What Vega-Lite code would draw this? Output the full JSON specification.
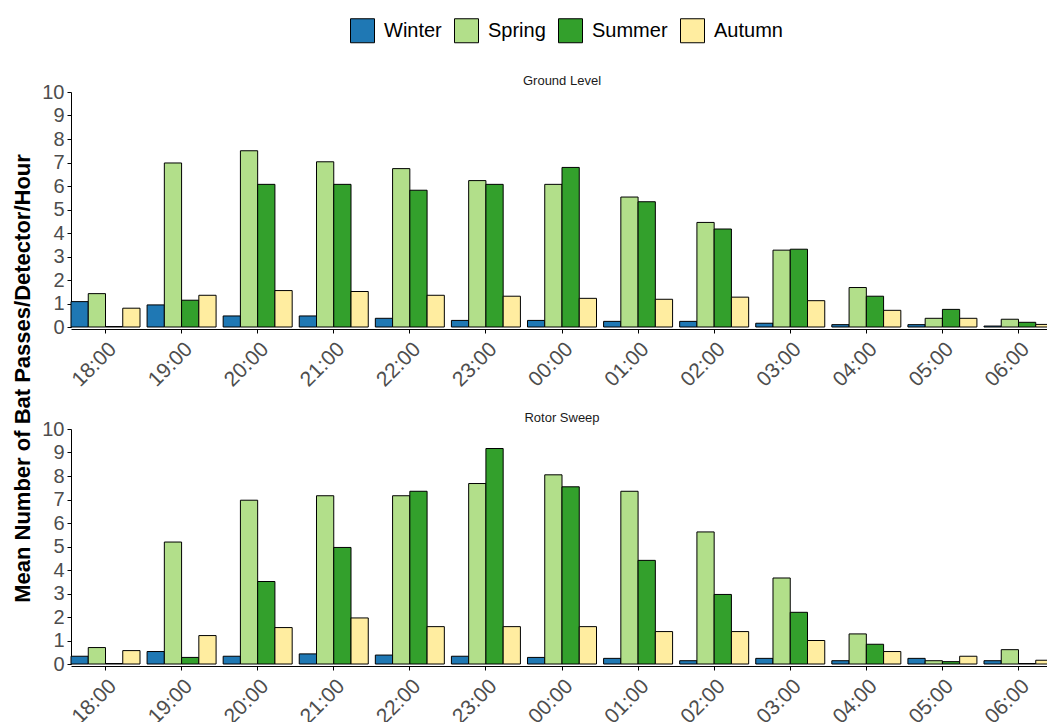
{
  "$schema": "https://vega.github.io/schema/vega-lite/v6.json",
  "padding": {"left": 11, "top": 18, "right": 0, "bottom": 0},
  "bounds": "flush",
  "spacing": 102,
  "config": {
    "view": {"stroke": null},
    "font": "Liberation Sans",
    "axis": {"grid": false, "domainColor": "black", "tickColor": "black", "labelColor": "#4d4d4d", "labelFontSize": 20, "tickSize": 4, "labelPadding": 3, "domainWidth": 1, "tickWidth": 1},
    "title": {"fontSize": 13, "fontWeight": "normal", "color": "#1a1a1a", "offset": -6, "anchor": "middle"}
  },
  "data": {"values": [
    {"panel":"Ground Level","hour":"18:00","season":"Winter","value":1.08},
    {"panel":"Ground Level","hour":"18:00","season":"Spring","value":1.42},
    {"panel":"Ground Level","hour":"18:00","season":"Summer","value":0.02},
    {"panel":"Ground Level","hour":"18:00","season":"Autumn","value":0.80},
    {"panel":"Ground Level","hour":"19:00","season":"Winter","value":0.94},
    {"panel":"Ground Level","hour":"19:00","season":"Spring","value":6.98},
    {"panel":"Ground Level","hour":"19:00","season":"Summer","value":1.14},
    {"panel":"Ground Level","hour":"19:00","season":"Autumn","value":1.35},
    {"panel":"Ground Level","hour":"20:00","season":"Winter","value":0.47},
    {"panel":"Ground Level","hour":"20:00","season":"Spring","value":7.50},
    {"panel":"Ground Level","hour":"20:00","season":"Summer","value":6.07},
    {"panel":"Ground Level","hour":"20:00","season":"Autumn","value":1.55},
    {"panel":"Ground Level","hour":"21:00","season":"Winter","value":0.47},
    {"panel":"Ground Level","hour":"21:00","season":"Spring","value":7.03},
    {"panel":"Ground Level","hour":"21:00","season":"Summer","value":6.07},
    {"panel":"Ground Level","hour":"21:00","season":"Autumn","value":1.51},
    {"panel":"Ground Level","hour":"22:00","season":"Winter","value":0.37},
    {"panel":"Ground Level","hour":"22:00","season":"Spring","value":6.74},
    {"panel":"Ground Level","hour":"22:00","season":"Summer","value":5.82},
    {"panel":"Ground Level","hour":"22:00","season":"Autumn","value":1.35},
    {"panel":"Ground Level","hour":"23:00","season":"Winter","value":0.28},
    {"panel":"Ground Level","hour":"23:00","season":"Spring","value":6.23},
    {"panel":"Ground Level","hour":"23:00","season":"Summer","value":6.07},
    {"panel":"Ground Level","hour":"23:00","season":"Autumn","value":1.31},
    {"panel":"Ground Level","hour":"00:00","season":"Winter","value":0.28},
    {"panel":"Ground Level","hour":"00:00","season":"Spring","value":6.07},
    {"panel":"Ground Level","hour":"00:00","season":"Summer","value":6.79},
    {"panel":"Ground Level","hour":"00:00","season":"Autumn","value":1.22},
    {"panel":"Ground Level","hour":"01:00","season":"Winter","value":0.24},
    {"panel":"Ground Level","hour":"01:00","season":"Spring","value":5.53},
    {"panel":"Ground Level","hour":"01:00","season":"Summer","value":5.33},
    {"panel":"Ground Level","hour":"01:00","season":"Autumn","value":1.18},
    {"panel":"Ground Level","hour":"02:00","season":"Winter","value":0.24},
    {"panel":"Ground Level","hour":"02:00","season":"Spring","value":4.45},
    {"panel":"Ground Level","hour":"02:00","season":"Summer","value":4.17},
    {"panel":"Ground Level","hour":"02:00","season":"Autumn","value":1.27},
    {"panel":"Ground Level","hour":"03:00","season":"Winter","value":0.16},
    {"panel":"Ground Level","hour":"03:00","season":"Spring","value":3.27},
    {"panel":"Ground Level","hour":"03:00","season":"Summer","value":3.31},
    {"panel":"Ground Level","hour":"03:00","season":"Autumn","value":1.12},
    {"panel":"Ground Level","hour":"04:00","season":"Winter","value":0.10},
    {"panel":"Ground Level","hour":"04:00","season":"Spring","value":1.68},
    {"panel":"Ground Level","hour":"04:00","season":"Summer","value":1.31},
    {"panel":"Ground Level","hour":"04:00","season":"Autumn","value":0.71},
    {"panel":"Ground Level","hour":"05:00","season":"Winter","value":0.10},
    {"panel":"Ground Level","hour":"05:00","season":"Spring","value":0.37},
    {"panel":"Ground Level","hour":"05:00","season":"Summer","value":0.75},
    {"panel":"Ground Level","hour":"05:00","season":"Autumn","value":0.37},
    {"panel":"Ground Level","hour":"06:00","season":"Winter","value":0.04},
    {"panel":"Ground Level","hour":"06:00","season":"Spring","value":0.33},
    {"panel":"Ground Level","hour":"06:00","season":"Summer","value":0.20},
    {"panel":"Ground Level","hour":"06:00","season":"Autumn","value":0.11},
    {"panel":"Rotor Sweep","hour":"18:00","season":"Winter","value":0.33},
    {"panel":"Rotor Sweep","hour":"18:00","season":"Spring","value":0.70},
    {"panel":"Rotor Sweep","hour":"18:00","season":"Summer","value":0.02},
    {"panel":"Rotor Sweep","hour":"18:00","season":"Autumn","value":0.57},
    {"panel":"Rotor Sweep","hour":"19:00","season":"Winter","value":0.53},
    {"panel":"Rotor Sweep","hour":"19:00","season":"Spring","value":5.19},
    {"panel":"Rotor Sweep","hour":"19:00","season":"Summer","value":0.28},
    {"panel":"Rotor Sweep","hour":"19:00","season":"Autumn","value":1.21},
    {"panel":"Rotor Sweep","hour":"20:00","season":"Winter","value":0.33},
    {"panel":"Rotor Sweep","hour":"20:00","season":"Spring","value":6.97},
    {"panel":"Rotor Sweep","hour":"20:00","season":"Summer","value":3.51},
    {"panel":"Rotor Sweep","hour":"20:00","season":"Autumn","value":1.55},
    {"panel":"Rotor Sweep","hour":"21:00","season":"Winter","value":0.43},
    {"panel":"Rotor Sweep","hour":"21:00","season":"Spring","value":7.16},
    {"panel":"Rotor Sweep","hour":"21:00","season":"Summer","value":4.96},
    {"panel":"Rotor Sweep","hour":"21:00","season":"Autumn","value":1.96},
    {"panel":"Rotor Sweep","hour":"22:00","season":"Winter","value":0.38},
    {"panel":"Rotor Sweep","hour":"22:00","season":"Spring","value":7.16},
    {"panel":"Rotor Sweep","hour":"22:00","season":"Summer","value":7.35},
    {"panel":"Rotor Sweep","hour":"22:00","season":"Autumn","value":1.59},
    {"panel":"Rotor Sweep","hour":"23:00","season":"Winter","value":0.33},
    {"panel":"Rotor Sweep","hour":"23:00","season":"Spring","value":7.68},
    {"panel":"Rotor Sweep","hour":"23:00","season":"Summer","value":9.17},
    {"panel":"Rotor Sweep","hour":"23:00","season":"Autumn","value":1.59},
    {"panel":"Rotor Sweep","hour":"00:00","season":"Winter","value":0.28},
    {"panel":"Rotor Sweep","hour":"00:00","season":"Spring","value":8.05},
    {"panel":"Rotor Sweep","hour":"00:00","season":"Summer","value":7.54},
    {"panel":"Rotor Sweep","hour":"00:00","season":"Autumn","value":1.59},
    {"panel":"Rotor Sweep","hour":"01:00","season":"Winter","value":0.24},
    {"panel":"Rotor Sweep","hour":"01:00","season":"Spring","value":7.35},
    {"panel":"Rotor Sweep","hour":"01:00","season":"Summer","value":4.41},
    {"panel":"Rotor Sweep","hour":"01:00","season":"Autumn","value":1.38},
    {"panel":"Rotor Sweep","hour":"02:00","season":"Winter","value":0.14},
    {"panel":"Rotor Sweep","hour":"02:00","season":"Spring","value":5.62},
    {"panel":"Rotor Sweep","hour":"02:00","season":"Summer","value":2.96},
    {"panel":"Rotor Sweep","hour":"02:00","season":"Autumn","value":1.38},
    {"panel":"Rotor Sweep","hour":"03:00","season":"Winter","value":0.24},
    {"panel":"Rotor Sweep","hour":"03:00","season":"Spring","value":3.66},
    {"panel":"Rotor Sweep","hour":"03:00","season":"Summer","value":2.20},
    {"panel":"Rotor Sweep","hour":"03:00","season":"Autumn","value":1.00},
    {"panel":"Rotor Sweep","hour":"04:00","season":"Winter","value":0.14},
    {"panel":"Rotor Sweep","hour":"04:00","season":"Spring","value":1.28},
    {"panel":"Rotor Sweep","hour":"04:00","season":"Summer","value":0.84},
    {"panel":"Rotor Sweep","hour":"04:00","season":"Autumn","value":0.53},
    {"panel":"Rotor Sweep","hour":"05:00","season":"Winter","value":0.24},
    {"panel":"Rotor Sweep","hour":"05:00","season":"Spring","value":0.14},
    {"panel":"Rotor Sweep","hour":"05:00","season":"Summer","value":0.10},
    {"panel":"Rotor Sweep","hour":"05:00","season":"Autumn","value":0.33},
    {"panel":"Rotor Sweep","hour":"06:00","season":"Winter","value":0.14},
    {"panel":"Rotor Sweep","hour":"06:00","season":"Spring","value":0.61},
    {"panel":"Rotor Sweep","hour":"06:00","season":"Summer","value":0.02},
    {"panel":"Rotor Sweep","hour":"06:00","season":"Autumn","value":0.16}
  ]},
  "vconcat": [
    {
      "title": "Ground Level",
      "transform": [{"filter": "datum.panel == 'Ground Level'"}],
      "width": 982,
      "height": 235,
      "mark": {"type": "bar", "stroke": "black", "strokeWidth": 1},
      "encoding": {
        "x": {"field": "hour", "type": "ordinal", "sort": ["18:00","19:00","20:00","21:00","22:00","23:00","00:00","01:00","02:00","03:00","04:00","05:00","06:00"], "scale": {"paddingInner": 0.093, "paddingOuter": 0}, "axis": {"title": null, "labelAngle": -45, "offset": 2, "labelBaseline": "top", "labelPadding": 5, "labelFontSize": 21}},
        "xOffset": {"field": "season", "sort": ["Winter","Spring","Summer","Autumn"], "scale": {"paddingInner": 0, "paddingOuter": 0}},
        "y": {"field": "value", "type": "quantitative", "scale": {"domain": [0, 10], "nice": false}, "axis": {"values": [0,1,2,3,4,5,6,7,8,9,10], "title": "Mean Number of Bat Passes/Detector/Hour", "titleFontSize": 22, "titleFontWeight": "bold", "titleColor": "black", "titleY": 286, "titlePadding": 7}},
        "color": {"field": "season", "type": "nominal", "sort": ["Winter","Spring","Summer","Autumn"], "scale": {"domain": ["Winter","Spring","Summer","Autumn"], "range": ["#1f78b4","#b2df8a","#33a02c","#ffeda0"]}, "legend": {"title": null, "orient": "none", "direction": "horizontal", "legendX": 279, "legendY": -74, "symbolType": "square", "symbolSize": 576, "symbolStrokeColor": "black", "symbolStrokeWidth": 1, "labelFontSize": 20, "labelColor": "black", "labelOffset": 9, "columnPadding": 10}}
      }
    },
    {
      "title": "Rotor Sweep",
      "transform": [{"filter": "datum.panel == 'Rotor Sweep'"}],
      "width": 982,
      "height": 235,
      "mark": {"type": "bar", "stroke": "black", "strokeWidth": 1},
      "encoding": {
        "x": {"field": "hour", "type": "ordinal", "sort": ["18:00","19:00","20:00","21:00","22:00","23:00","00:00","01:00","02:00","03:00","04:00","05:00","06:00"], "scale": {"paddingInner": 0.093, "paddingOuter": 0}, "axis": {"title": null, "labelAngle": -45, "offset": 2, "labelBaseline": "top", "labelPadding": 5, "labelFontSize": 21}},
        "xOffset": {"field": "season", "sort": ["Winter","Spring","Summer","Autumn"], "scale": {"paddingInner": 0, "paddingOuter": 0}},
        "y": {"field": "value", "type": "quantitative", "scale": {"domain": [0, 10], "nice": false}, "axis": {"values": [0,1,2,3,4,5,6,7,8,9,10], "title": null}},
        "color": {"field": "season", "type": "nominal", "sort": ["Winter","Spring","Summer","Autumn"], "scale": {"domain": ["Winter","Spring","Summer","Autumn"], "range": ["#1f78b4","#b2df8a","#33a02c","#ffeda0"]}, "legend": null}
      }
    }
  ]
}
